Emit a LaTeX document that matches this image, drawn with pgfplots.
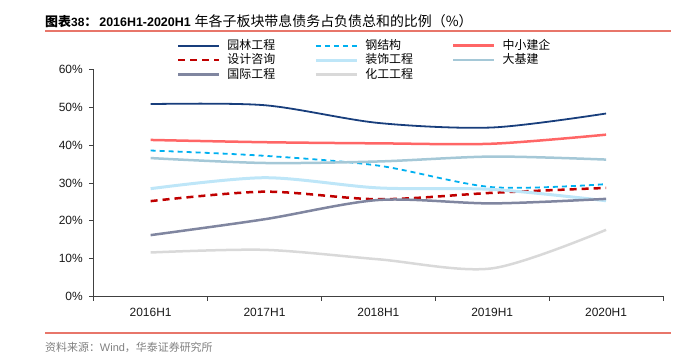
\documentclass[border=0pt]{standalone}
\usepackage{fontspec}
\setmainfont{Liberation Sans}
\newfontfamily\cjk{Noto Sans CJK SC}
\usepackage{pgfplots}
\pgfplotsset{compat=1.18}
\definecolor{cA}{RGB}{24,62,124}
\definecolor{cB}{RGB}{0,176,240}
\definecolor{cC}{RGB}{255,102,102}
\definecolor{cD}{RGB}{192,0,0}
\definecolor{cE}{RGB}{190,230,248}
\definecolor{cF}{RGB}{165,200,215}
\definecolor{cG}{RGB}{128,134,160}
\definecolor{cH}{RGB}{217,217,217}
\definecolor{axisgray}{RGB}{64,64,64}
\definecolor{redline}{RGB}{232,118,106}
\definecolor{srcgray}{RGB}{128,128,128}
\begin{document}
\begin{tikzpicture}
\path[use as bounding box] (0bp,0bp) rectangle (692bp,353bp);
\begin{axis}[
  at={(93.7bp,56.7bp)}, anchor=south west,
  scale only axis, width=569.3bp, height=226.6bp,
  xmin=-0.5, xmax=4.5, ymin=0, ymax=60,
  axis x line*=bottom, axis y line*=left,
  axis line style={color=axisgray, line width=0.8bp},
  every tick/.style={color=axisgray, line width=0.8bp},
  tick align=outside,
  major tick length=4.5bp, minor tick length=4.5bp,
  ytick={0,10,...,60},
  yticklabel={\pgfmathprintnumber{\tick}\%},
  yticklabel style={xshift=-3bp},
  xtick={0,1,2,3,4},
  xticklabels={2016H1,2017H1,2018H1,2019H1,2020H1},
  xticklabel style={yshift=-4bp},
  minor xtick={-0.5,0.5,1.5,2.5,3.5,4.5},
  major x tick style={draw=none},
  /pgf/number format/assume math mode=true,
  tick label style={font=\fontsize{12}{14}\selectfont, color=black!90},
  legend columns=3,
  legend cell align=left,
  legend style={draw=none, fill=none, inner sep=0pt, outer sep=0pt,
    at={(0.1463,1.1346)}, anchor=north west,
    font=\fontsize{12}{14}\cjk,
    nodes={inner sep=0pt, text height=10bp, text depth=3bp},
    row sep=1.5bp,
    /tikz/every odd column/.append style={column sep=7bp},
    /tikz/every even column/.append style={column sep=39bp}},
  legend image code/.code={\draw[#1, line cap=butt] (0bp,0bp) -- (41bp,0bp);},
]
\addplot[cA, line width=1.8bp, smooth] coordinates {(0,50.9)(1,50.6)(2,45.9)(3,44.7)(4,48.4)};
\addlegendentry{园林工程}
\addplot[cB, line width=1.8bp, smooth, dash pattern=on 5bp off 4bp] coordinates {(0,38.6)(1,37.2)(2,34.6)(3,28.9)(4,29.7)};
\addlegendentry{钢结构}
\addplot[cC, line width=2.5bp, smooth] coordinates {(0,41.4)(1,40.8)(2,40.5)(3,40.4)(4,42.8)};
\addlegendentry{中小建企}
\addplot[cD, line width=2.5bp, smooth, dash pattern=on 7bp off 5bp] coordinates {(0,25.2)(1,27.7)(2,25.7)(3,27.4)(4,28.7)};
\addlegendentry{设计咨询}
\addplot[cE, line width=3bp, smooth] coordinates {(0,28.5)(1,31.4)(2,28.7)(3,28.3)(4,25.3)};
\addlegendentry{装饰工程}
\addplot[cF, line width=2.5bp, smooth] coordinates {(0,36.6)(1,35.3)(2,35.7)(3,37.0)(4,36.2)};
\addlegendentry{大基建}
\addplot[cG, line width=2.5bp, smooth] coordinates {(0,16.2)(1,20.4)(2,25.5)(3,24.6)(4,25.8)};
\addlegendentry{国际工程}
\addplot[cH, line width=2.5bp, smooth] coordinates {(0,11.6)(1,12.3)(2,9.8)(3,7.4)(4,17.6)};
\addlegendentry{化工工程}
\end{axis}
% title
\node[anchor=base west, inner sep=0pt] at (45bp,326.4bp)
  {{\fontsize{13}{15}\cjk\bfseries 图表}{\fontsize{12}{14}\selectfont\bfseries 38}{\fontsize{13}{15}\cjk\bfseries ：}\hspace{2bp}{\fontsize{12.5}{14}\selectfont\bfseries 2016H1-2020H1}\hspace{4bp}{\fontsize{14}{16}\cjk 年各子板块带息债务占负债总和的比例（\%）}};
\draw[redline, line width=1.5bp] (45bp,322bp) -- (671bp,322bp);
\draw[redline, line width=1.5bp] (45bp,20bp) -- (671bp,20bp);
\node[anchor=base west, inner sep=0pt, text=srcgray] at (45bp,1.5bp)
  {{\fontsize{11}{13}\cjk 资料来源：}{\fontsize{11}{13}\selectfont Wind}{\fontsize{11}{13}\cjk ，华泰证券研究所}};
\end{tikzpicture}
\end{document}
